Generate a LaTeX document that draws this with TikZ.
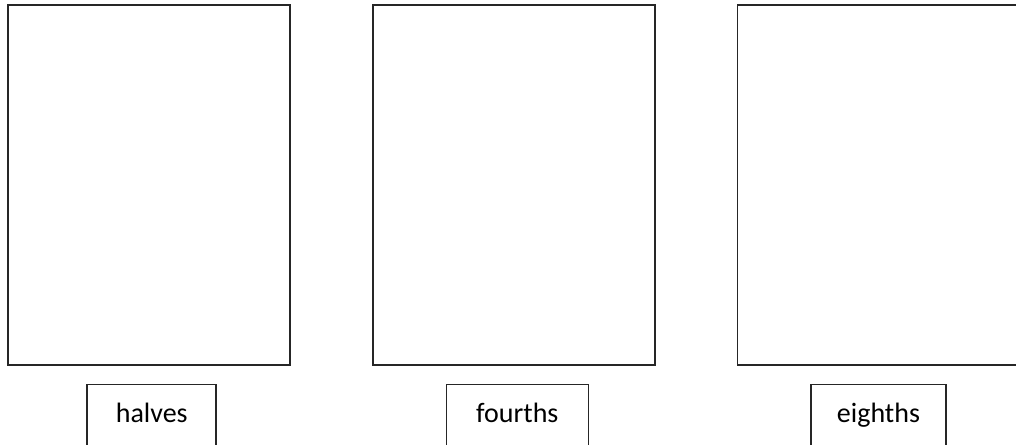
\documentclass[tikz,border=0pt]{standalone}
\usepackage{fontspec}
\setmainfont{Carlito}
\usetikzlibrary{positioning}
\tikzset{
  sheet/.style = {draw=black!85, line width=1.7pt, inner sep=0pt, minimum width=282pt, minimum height=360pt},
  namebox/.style = {draw=black!85, line width=1.6pt, anchor=north, inner ysep=0pt, text height=38pt, text depth=40pt, font=\fontsize{28}{32}\selectfont},
}
\begin{document}
\begin{tikzpicture}[x=1pt,y=1pt]
\useasboundingbox (0,0) rectangle (1016,444);

% halves
\node[sheet] (halfsheet) at (148.75,259) {};
\node[namebox, minimum width=129pt, below=18pt of halfsheet, xshift=3pt] (halflabel) {halves};

% fourths
\node[sheet] (fourthsheet) at (514.3,259) {};
\node[namebox, minimum width=142pt, below=18pt of fourthsheet, xshift=3pt] (fourthlabel) {fourths};

% eighths (runs off the right edge)
\node[sheet] (eighthsheet) at (878.5,259) {};
\node[namebox, minimum width=135pt, below=18pt of eighthsheet] (eighthlabel) {eighths};

\end{tikzpicture}
\end{document}
